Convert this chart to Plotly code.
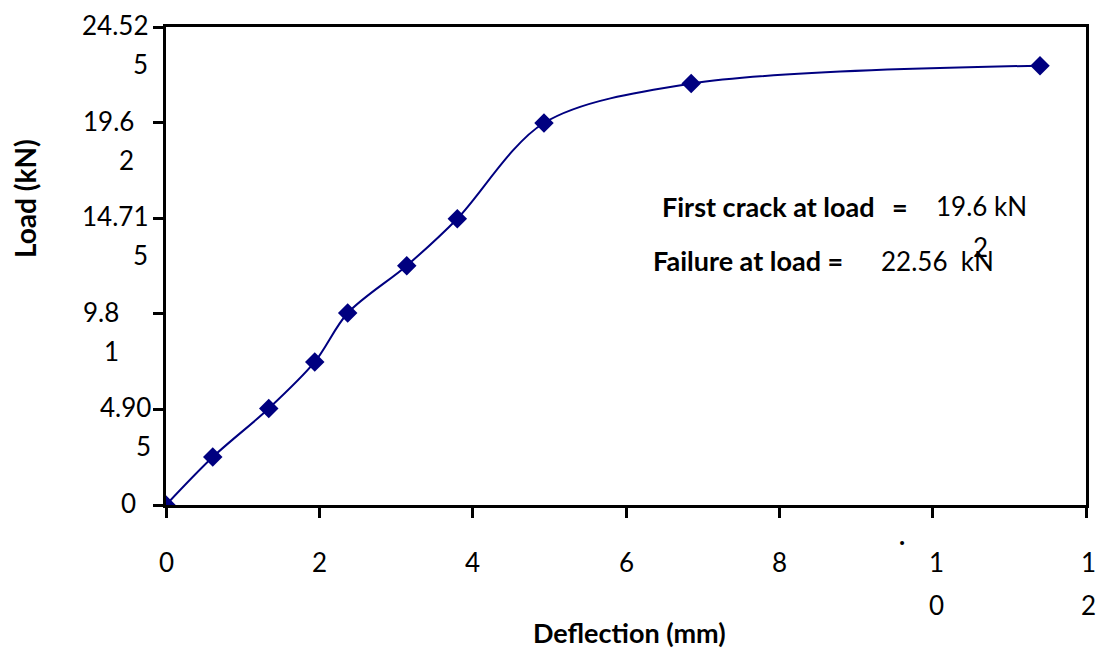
import plotly.graph_objects as go

# ---- data ----
deflection_mm = [0.0, 0.61, 1.34, 1.94, 2.37, 3.14, 3.80, 4.93, 6.85, 11.40]
load_kn = [0.0, 2.46, 4.95, 7.34, 9.85, 12.28, 14.69, 19.60, 21.62, 22.54]

y_tick_vals = [0, 4.905, 9.81, 14.715, 19.62, 24.525]
y_tick_line1 = ["0", "4.90", "9.8", "14.71", "19.6", "24.52"]
y_tick_line2 = ["", "5", "1", "5", "2", "5"]

x_tick_vals = [0, 2, 4, 6, 8, 10, 12]
x_tick_line1 = ["0", "2", "4", "6", "8", "1", "1"]
x_tick_line2 = ["", "", "", "", "", "0", "2"]

x_title = "Deflection (mm)"
y_title = "Load (kN)"
crack_label = "First crack at load"
crack_value = "19.6 kN"
failure_label = "Failure at load ="
failure_value = "22.56\u00a0 kN"

# ---- styling / layout ----
FONT = "Lato"
FS = 26
FSB = 27
NAVY = "#000080"
# page body has an 8px default margin; size the figure so it fits without scrollbars
W, H = 1089, 641
L, R, T, B = 158, 8, 19, 144

fig = go.Figure()
fig.add_trace(go.Scatter(
    x=deflection_mm, y=load_kn, mode="lines+markers",
    line=dict(color=NAVY, width=2, shape="spline", smoothing=0.9),
    marker=dict(symbol="diamond", size=15, color=NAVY),
    showlegend=False, hoverinfo="skip",
))

ann = []
txt = dict(family=FONT, size=FS, color="black")
txtb = dict(family=FONT, size=FSB, color="black")
# y tick labels (first line on the tick, wrapped remainder below)
y_right_shift = [-28, -13, -45, -16, -30, -16]
for v, a, b, s in zip(y_tick_vals, y_tick_line1, y_tick_line2, y_right_shift):
    ann.append(dict(xref="paper", yref="y", x=0, y=v, text=a, showarrow=False,
                    xanchor="right", yanchor="middle", xshift=s, yshift=2, font=txt))
    if b:
        ann.append(dict(xref="paper", yref="y", x=0, y=v, text=b, showarrow=False,
                        xanchor="right", yanchor="middle", xshift=s, yshift=-37, font=txt))
# x tick labels
for v, a, b in zip(x_tick_vals, x_tick_line1, x_tick_line2):
    xs = (4 if v < 12 else 2) if b else 0
    ann.append(dict(xref="x", yref="paper", x=v, y=0, text=a, showarrow=False,
                    xanchor="center", yanchor="middle", xshift=xs, yshift=-57, font=txt))
    if b:
        ann.append(dict(xref="x", yref="paper", x=v, y=0, text=b, showarrow=False,
                        xanchor="center", yanchor="middle", xshift=xs, yshift=-100, font=txt))
# stray dot above the 10 label
ann.append(dict(xref="x", yref="paper", x=9.6, y=0, text="<b>.</b>", showarrow=False,
                xanchor="center", yanchor="middle", yshift=-30, font=txt))
# axis titles
ann.append(dict(xref="paper", yref="paper", x=0.504, y=0, text="<b>%s</b>" % x_title,
                showarrow=False, xanchor="center", yanchor="middle", yshift=-127, font=txtb))
ann.append(dict(xref="paper", yref="paper", x=0, y=0.64, text="<b>%s</b>" % y_title,
                showarrow=False, xanchor="center", yanchor="middle", xshift=-141,
                textangle=-90, font=dict(family=FONT, size=28, color="black")))
# in-plot notes
ann.append(dict(xref="x", yref="y", x=6.44, y=15.29, text="<b>%s</b>" % crack_label,
                showarrow=False, xanchor="left", yanchor="middle", font=txtb))
ann.append(dict(xref="x", yref="y", x=9.58, y=15.29, text="<b>=</b>",
                showarrow=False, xanchor="center", yanchor="middle", font=txtb))
ann.append(dict(xref="x", yref="y", x=10.02, y=15.34, text=crack_value,
                showarrow=False, xanchor="left", yanchor="middle", font=txt))
ann.append(dict(xref="x", yref="y", x=10.63, y=13.25, text="2",
                showarrow=False, xanchor="center", yanchor="middle", font=txt))
ann.append(dict(xref="x", yref="y", x=6.33, y=12.52, text="<b>%s</b>" % failure_label,
                showarrow=False, xanchor="left", yanchor="middle", font=txtb))
ann.append(dict(xref="x", yref="y", x=9.30, y=12.52, text=failure_value,
                showarrow=False, xanchor="left", yanchor="middle", font=txt))

axis_common = dict(showline=True, linecolor="black", linewidth=3, mirror=True,
                   ticks="outside", ticklen=10, tickwidth=3, tickcolor="black",
                   showgrid=False, zeroline=False, showticklabels=False)

fig.update_layout(
    width=W, height=H,
    margin=dict(l=L, r=R, t=T, b=B),
    paper_bgcolor="white", plot_bgcolor="white",
    xaxis=dict(range=[0, 12], tickvals=x_tick_vals, **axis_common),
    yaxis=dict(range=[0, 24.525], tickvals=y_tick_vals, **axis_common),
    annotations=ann,
    font=dict(family=FONT, color="black"),
)

fig.write_html("out.html")
